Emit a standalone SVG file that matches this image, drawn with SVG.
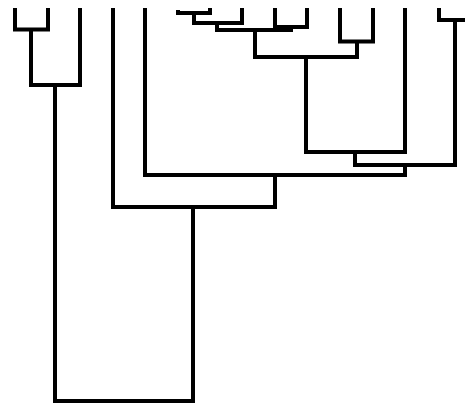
<svg xmlns="http://www.w3.org/2000/svg" width="465" height="404" viewBox="0 0 465 404">
<style>
.l{fill:none;stroke:#000;stroke-width:4;stroke-linejoin:miter;stroke-linecap:butt}
</style>
<rect width="465" height="404" fill="#fff"/>
<g id="connectors">
<path id="b1" class="l" d="M15 8V29.5H48V8"/>
<path id="b2" class="l" d="M31 29.5V85H80V8"/>
<path id="b3" class="l" d="M178 10V13H210V8"/>
<path id="b4" class="l" d="M194 13V23H242V8"/>
<path id="b5" class="l" d="M275 8V27H307V8"/>
<path id="b6" class="l" d="M217 23V30H291V27"/>
<path id="b7" class="l" d="M340 8V41.5H373V8"/>
<path id="b8" class="l" d="M255 30V57H357V41.5"/>
<path id="b9" class="l" d="M306 57V152H405V8"/>
<path id="b10" class="l" d="M439 8V20H471V8"/>
<path id="b11" class="l" d="M355 152V165H455V20"/>
<path id="b12" class="l" d="M145 8V175H405V165"/>
<path id="b13" class="l" d="M113 8V207H275V175"/>
<path id="b14" class="l" d="M55 85V401H193V207"/>
</g>
</svg>
